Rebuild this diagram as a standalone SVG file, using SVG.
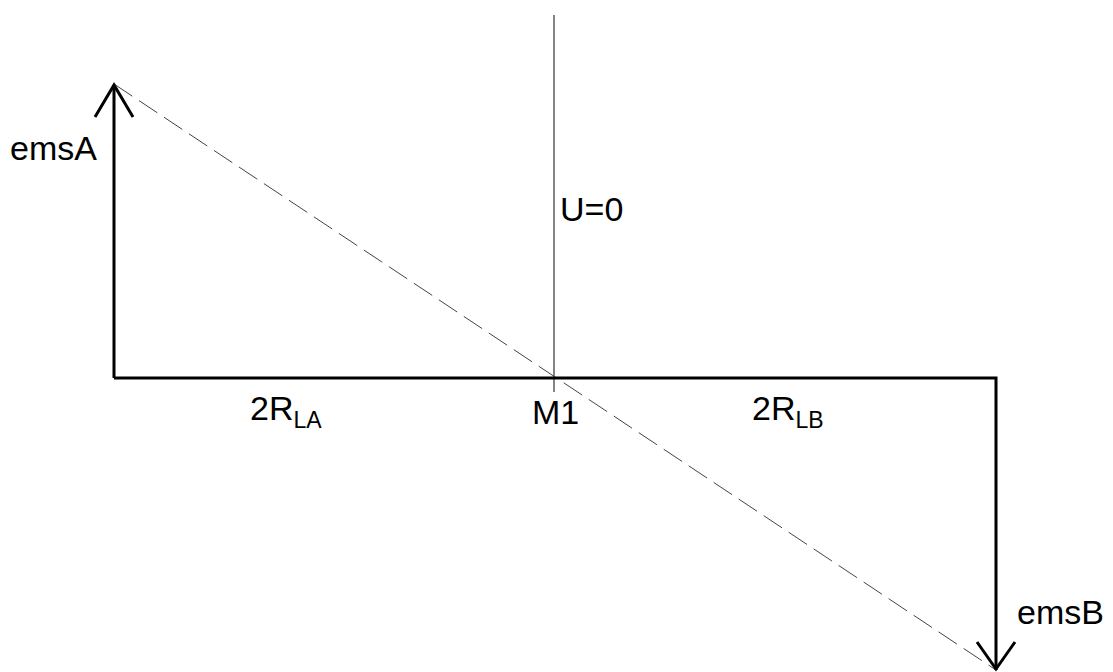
<svg xmlns="http://www.w3.org/2000/svg" width="1113" height="672" viewBox="0 0 1113 672">
<style>
.t{font-family:"Liberation Sans",Arial,sans-serif;font-size:34px;fill:#000}
.s{font-size:23px}
.thick{stroke:#000;stroke-width:3;fill:none}
.thin{stroke:#333;stroke-width:1.2;fill:none}
.dash{stroke:#444;stroke-width:1;stroke-dasharray:22 8;fill:none}
</style>
<rect width="1113" height="672" fill="#fff"/>
<g id="connectors">
<path id="axis" class="thin" d="M554 15V392"/>
<path id="dashed" class="dash" d="M114 84L996 670"/>
<path id="frame" class="thick" d="M114 378H996V670M114 378V85"/>
<path id="arrowA" class="thick" d="M95 117L114 85L133 117"/>
<path id="arrowB" class="thick" d="M977 642L996 669L1015 642"/>
</g>
<g id="emsA"><text class="t" x="10" y="160">emsA</text></g>
<g id="U0"><text class="t" x="560" y="221">U=0</text></g>
<g id="RLA"><text class="t" x="250" y="420">2R<tspan class="s" dy="8">LA</tspan></text></g>
<g id="M1"><text class="t" x="532" y="424">M1</text></g>
<g id="RLB"><text class="t" x="752" y="420">2R<tspan class="s" dy="8">LB</tspan></text></g>
<g id="emsB"><text class="t" x="1017" y="624">emsB</text></g>
</svg>
